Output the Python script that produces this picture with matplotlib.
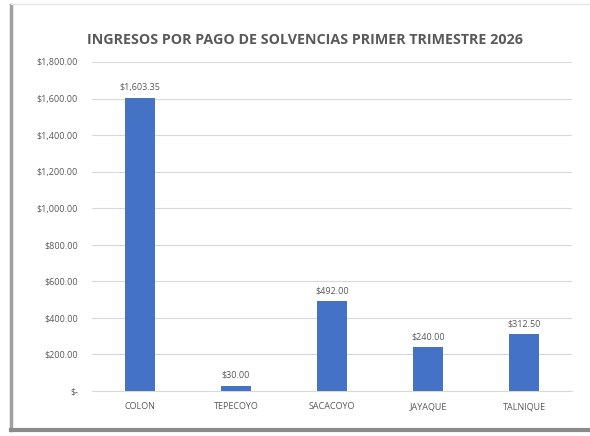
import matplotlib
matplotlib.use("Agg")
import matplotlib.pyplot as plt
from matplotlib.lines import Line2D

categories = ["COLON", "TEPECOYO", "SACACOYO", "JAYAQUE", "TALNIQUE"]
values = [1603.35, 30.00, 492.00, 240.00, 312.50]
yticks = [0, 200, 400, 600, 800, 1000, 1200, 1400, 1600, 1800]
title = "INGRESOS POR PAGO DE SOLVENCIAS PRIMER TRIMESTRE 2026"

W, H = 590, 436
fig = plt.figure(figsize=(W/100, H/100), dpi=100)
fig.patch.set_facecolor("white")

# Frame (screenshot border)
fig.add_artist(Line2D([11/W, 11/W], [1-5/H, 1-430/H], color="#a0a0a0", lw=2.5, transform=fig.transFigure))
fig.add_artist(Line2D([11/W, 1], [1-430/H, 1-430/H], color="#8a8a8a", lw=3, transform=fig.transFigure))
fig.add_artist(Line2D([11/W, 1], [1-4/H, 1-4/H], color="#e6e6e6", lw=1, transform=fig.transFigure))

left, right = 92/W, 572/W
bottom, top = 1-391/H, 1-62/H
ax = fig.add_axes([left, bottom, right-left, top-bottom])

gray = "#595959"
ax.bar(range(len(categories)), values, width=0.31, color="#4472C4", zorder=3)
ax.set_xlim(-0.5, len(categories)-0.5)
ax.set_ylim(0, 1800)
ax.set_yticks(yticks)
ax.set_yticklabels(["$-" if v == 0 else f"${v:,.2f}" for v in yticks])
ax.set_xticks(range(len(categories)))
ax.set_xticklabels(categories)
ax.grid(axis="y", color="#d9d9d9", lw=0.8, zorder=0)
for s in ["top", "right", "left"]:
    ax.spines[s].set_visible(False)
ax.spines["bottom"].set_color("#d9d9d9")
ax.tick_params(axis="both", length=0, labelsize=6.5, colors=gray)
ax.tick_params(axis="y", pad=10)
ax.tick_params(axis="x", pad=8)
for lbl in ax.get_xticklabels() + ax.get_yticklabels():
    lbl.set_fontfamily("Open Sans")

for i, v in enumerate(values):
    ax.annotate(f"${v:,.2f}", (i, v), xytext=(0, 4), textcoords="offset points",
                ha="center", va="bottom", fontsize=6.5, color=gray, family="Open Sans")

fig.text(305/W, 1-40/H, title, ha="center", va="center", fontsize=10.25,
         fontweight="bold", color=gray, family="Open Sans")

fig.savefig("out.png", dpi=100)
